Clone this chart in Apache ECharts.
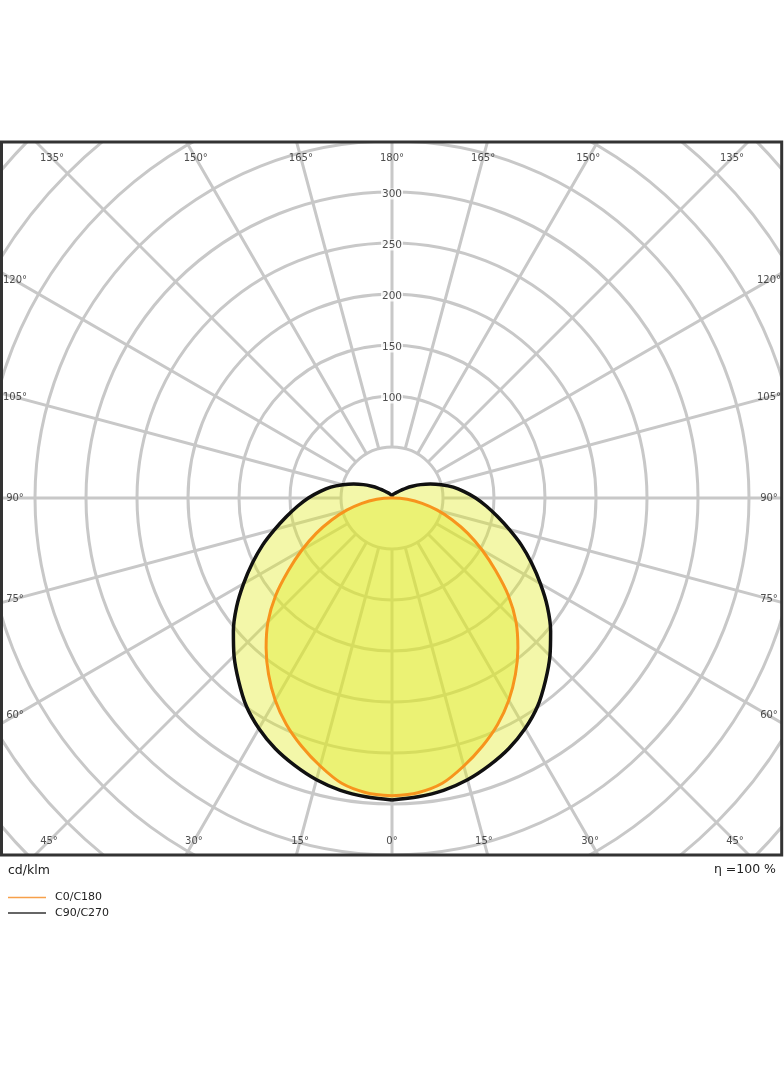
<!DOCTYPE html>
<html>
<head>
<meta charset="utf-8">
<script src="https://cdn.jsdelivr.net/npm/echarts@6/dist/echarts.min.js"></script>
<style>
html,body{margin:0;padding:0;background:#fff;}
#main{width:784px;height:1066px;}
</style>
</head>
<body>
<div id="main"></div>
<script>
// ---- data (cd/klm) ----
const gammas = [0,5,10,15,20,25,30,35,40,45,50,55,60,65,70,75,80,85,90,95,100,105,110,115,120,125,130,135,140,145,150,155,160,165,170,175,180];
const c0c180 = [292,290,284,272,259,245,229,211,192,172,149,124,102,82,63,46,30,15,1,0,0,0,0,0,0,0,0,0,0,0,0,0,0,0,0,0,0];
const c90c270 = [296,294,291,286,279,271,261,249,234,219,203,186,168,151,135,119,105,93,82,71,61,50,40,31,23,17,12,9,7,6,5,4,4,3,3,3,3];
const radiusTicks = [100,150,200,250,300];
const angleTicks = [0,15,30,45,60,75,90,105,120,135,150,165,180];
const seriesNames = ['C0/C180','C90/C270'];
const unitText = 'cd/klm';
const etaText = 'η =100 %';

// ---- layout ----
const CX = 392, CY = 498, PX = 1.02, RMAX = 550;
const FONT = 'DejaVu Sans';

function closedCurve(vals){
  const pts = gammas.map((g,i)=>[vals[i], g]);
  for (let i = gammas.length - 2; i >= 0; i--) pts.push([vals[i], 360 - gammas[i]]);
  return pts;
}
function edgeRadius(g){
  const a = g*Math.PI/180, s = Math.abs(Math.sin(a)), c = Math.cos(a);
  let r = Infinity;
  if (s > 1e-6) r = Math.min(r, 377/s);
  if (c > 1e-6) r = Math.min(r, 343/c);
  if (c < -1e-6) r = Math.min(r, 340/(-c));
  return r/PX;
}
const angleLabelData = [];
angleTicks.forEach(g=>{
  angleLabelData.push([edgeRadius(g), g, g + '°']);
  if (g !== 0 && g !== 180) angleLabelData.push([edgeRadius(g), 360 - g, g + '°']);
});
const radiusLabelData = radiusTicks.map(v=>[v, 180, String(v)]);

const gridColor = '#c8c8c8';
const chart = echarts.init(document.getElementById('main'), null, {renderer:'canvas'});
chart.setOption({
  animation:false,
  backgroundColor:'#fff',
  textStyle:{fontFamily:FONT},
  polar:[
    {center:[CX,CY], radius:RMAX*PX},
    {center:[CX,CY], radius:[50*PX, RMAX*PX]}
  ],
  angleAxis:[
    {polarIndex:0, type:'value', min:0, max:360, interval:15, startAngle:270, clockwise:true, show:false},
    {polarIndex:1, type:'value', min:0, max:360, interval:15, startAngle:270, clockwise:true,
     axisLine:{show:false}, axisTick:{show:false}, axisLabel:{show:false},
     splitLine:{show:true, lineStyle:{color:gridColor, width:3}}}
  ],
  radiusAxis:[
    {polarIndex:0, type:'value', min:0, max:RMAX, interval:50,
     axisLine:{show:false}, axisTick:{show:false}, axisLabel:{show:false},
     splitLine:{show:true, lineStyle:{color:gridColor, width:3}}},
    {polarIndex:1, type:'value', min:50, max:RMAX, show:false}
  ],
  legend:{
    orient:'vertical', left:8, top:892, z:60, padding:0,
    icon:'rect', itemWidth:38, itemHeight:1.4, itemGap:4.5,
    textStyle:{fontSize:11, color:'#222', fontFamily:FONT, padding:[0,0,0,4]},
    data:[
      {name:seriesNames[0], icon:'rect', itemStyle:{color:'#f7a04a', opacity:1}},
      {name:seriesNames[1], icon:'rect', itemStyle:{color:'#333', opacity:1}}
    ]
  },
  series:[
    {name:seriesNames[1], type:'line', coordinateSystem:'polar', polarIndex:0,
     data:closedCurve(c90c270), smooth:0.3, symbol:'none', z:3,
     itemStyle:{color:'#111'},
     lineStyle:{color:'#111', width:3.5, join:'round'},
     areaStyle:{color:'rgba(225,235,30,0.55)'}},
    {name:seriesNames[0], type:'line', coordinateSystem:'polar', polarIndex:0,
     data:closedCurve(c0c180), smooth:0.3, symbol:'none', z:4,
     itemStyle:{color:'#f7941d'},
     lineStyle:{color:'#f7941d', width:3, join:'round'},
     areaStyle:{color:'rgba(225,235,30,0.55)'}},
    {name:'radiusLabels', type:'scatter', coordinateSystem:'polar', polarIndex:0,
     data:radiusLabelData, symbolSize:0, z:10, silent:true,
     label:{show:true, position:'inside', offset:[0,2], formatter:p=>p.value[2], fontSize:10.5, color:'#222',
            fontFamily:FONT, backgroundColor:'#fff', padding:[0,1]}},
    {name:'angleLabels', type:'scatter', coordinateSystem:'polar', polarIndex:0,
     data:angleLabelData, symbolSize:0, z:10, silent:true,
     label:{show:true, position:'inside', formatter:p=>p.value[2], fontSize:10, color:'#222',
            fontFamily:FONT}}
  ],
  graphic:[
    {type:'rect', z:50, silent:true, shape:{x:0,y:0,width:784,height:142}, style:{fill:'#fff'}},
    {type:'rect', z:50, silent:true, shape:{x:0,y:855,width:784,height:211}, style:{fill:'#fff'}},
    {type:'rect', z:50, silent:true, shape:{x:0,y:0,width:1.5,height:1066}, style:{fill:'#fff'}},
    {type:'rect', z:50, silent:true, shape:{x:781.7,y:0,width:3,height:1066}, style:{fill:'#fff'}},
    {type:'rect', z:51, silent:true, shape:{x:1.5,y:142,width:780.2,height:713}, style:{fill:null, stroke:'#333', lineWidth:3}},
    {type:'text', z:60, left:8, top:864, style:{text:unitText, font:'12.5px "DejaVu Sans"', fill:'#222'}},
    {type:'text', z:60, right:8, top:863, style:{text:etaText, font:'12.5px "DejaVu Sans"', fill:'#222'}}
  ]
});
</script>
</body>
</html>
